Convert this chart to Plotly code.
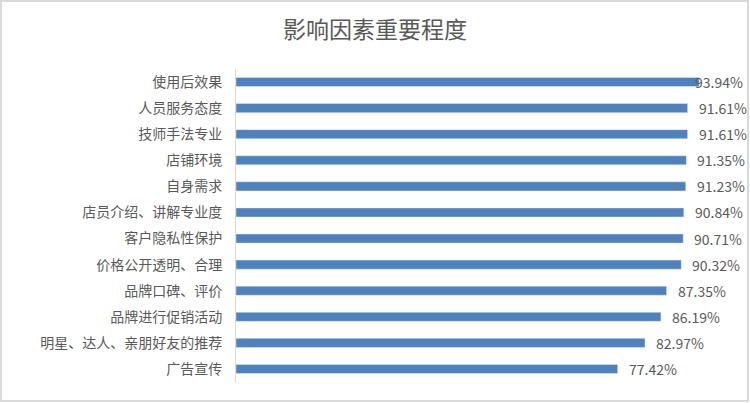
import plotly.graph_objects as go

# Data
factors = [
    "使用后效果", "人员服务态度", "技师手法专业", "店铺环境", "自身需求",
    "店员介绍、讲解专业度", "客户隐私性保护", "价格公开透明、合理",
    "品牌口碑、评价", "品牌进行促销活动", "明星、达人、亲朋好友的推荐", "广告宣传",
]
importance = [93.94, 91.61, 91.61, 91.35, 91.23, 90.84, 90.71, 90.32,
              87.35, 86.19, 82.97, 77.42]

W, H = 750, 403
L, R, T, B = 236, 5, 69, 21
plot_w = W - L - R
plot_h = H - T - B
px_per_unit = 4.93          # 0 -> x=236, 100 -> x=729
x_max = plot_w / px_per_unit
font = "Noto Sans CJK SC, Noto Sans, sans-serif"
grey = "#595959"

fig = go.Figure()
fig.add_trace(go.Bar(
    x=importance,
    y=factors,
    orientation="h",
    width=0.35,
    marker=dict(color="#4F81BD"),
    hoverinfo="x+y",
))

# value labels, pushed back inside the chart when they would run off the edge
label_w = 48
right_edge = W - 5
for name, v in zip(factors, importance):
    end_px = L + v * px_per_unit
    if end_px + 9 + label_w > right_edge:
        fig.add_annotation(x=1, xref="paper", y=name, yref="y",
                           text=f"{v:.2f}%", showarrow=False, xanchor="right",
                           font=dict(family=font, size=14, color=grey))
    else:
        fig.add_annotation(x=v, xref="x", y=name, yref="y", text=f"{v:.2f}%",
                           showarrow=False, xanchor="left", xshift=9,
                           font=dict(family=font, size=14, color=grey))

# chart border
fig.add_shape(type="rect", xref="paper", yref="paper",
              x0=(1 - L) / plot_w, x1=(W - 2 - L) / plot_w,
              y0=(H - B - (H - 2)) / plot_h, y1=(H - B - 1) / plot_h,
              line=dict(color="#d9d9d9", width=2), layer="below")

fig.update_layout(
    width=W, height=H,
    margin=dict(l=L, r=R, t=T, b=B),
    paper_bgcolor="white", plot_bgcolor="white",
    title=dict(text="影响因素重要程度", x=0.5, xref="container", xanchor="center",
               y=1 - 30 / H, yanchor="middle",
               font=dict(family=font, size=23, color=grey)),
    xaxis=dict(range=[0, x_max], visible=False, fixedrange=True),
    yaxis=dict(autorange="reversed", showline=True, linecolor="#d9d9d9", linewidth=1,
               ticks="", ticklabelstandoff=10, showgrid=False, fixedrange=True,
               tickfont=dict(family=font, size=14, color=grey)),
    showlegend=False,
    font=dict(family=font),
)

fig.write_html("out.html", config={"displayModeBar": False},
               post_script="document.body.style.margin='0';")
